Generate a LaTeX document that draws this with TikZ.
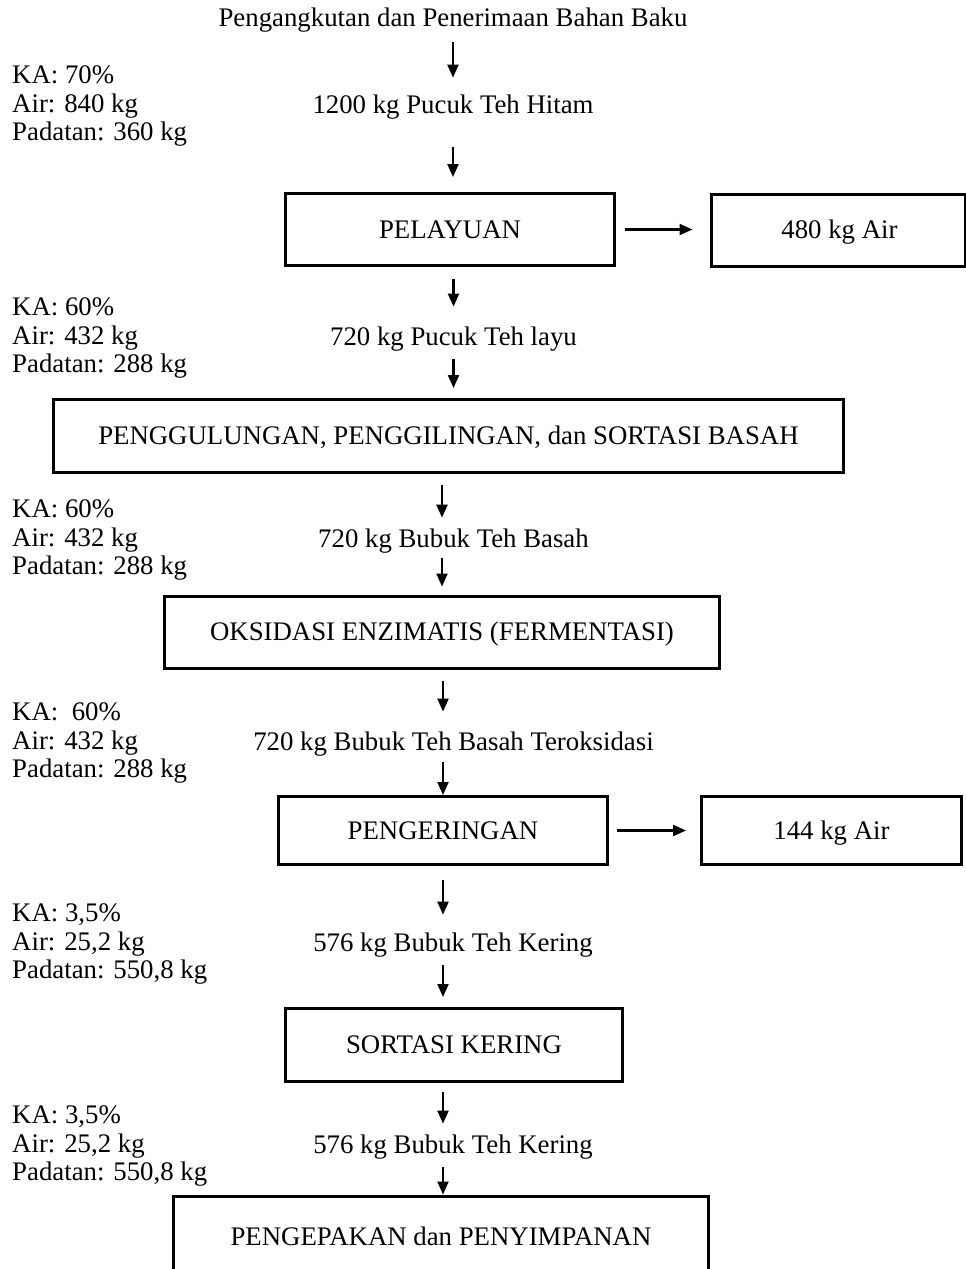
\documentclass[tikz,border=0pt]{standalone}
\usepackage{fontspec}
\setmainfont{Liberation Serif}
\usepackage{tikz}
\usetikzlibrary{positioning,arrows.meta,calc}

\begin{document}
\begin{tikzpicture}[x=1pt, y=-1pt, >={Triangle[length=13pt, width=11pt]},
    every node/.style={font=\fontsize{26.8}{28.5}\selectfont, inner sep=0pt},
    proses/.style={draw, line width=3pt, minimum height=72pt, text height=17.5pt, text depth=0pt},
    panah/.style={->, line width=2.2pt}]
    \useasboundingbox (0,0) rectangle (966,1269);
    \clip (0,0) rectangle (966,1269);

    % aliran bahan (teks tengah)
    \node (judul)   at (453, 20)   {Pengangkutan dan Penerimaan Bahan Baku};
    \node (teh1)    at (453, 107)  {1200 kg Pucuk Teh Hitam};
    \node (teh2)    at (453.5, 339) {720 kg Pucuk Teh layu};
    \node (basah)   at (453.5, 541) {720 kg Bubuk Teh Basah};
    \node (teroks)  at (453.5, 744) {720 kg Bubuk Teh Basah Teroksidasi};
    \node (kering1) at (453, 945)  {576 kg Bubuk Teh Kering};
    \node (kering2) at (453, 1147) {576 kg Bubuk Teh Kering};

    % kotak proses
    \node[proses, minimum width=329pt] (layu)    at (450, 229.5) {PELAYUAN};
    \node[proses, minimum width=254pt] (air1)    at (838, 230)   {\hspace*{3pt}480 kg Air};
    \node[proses, minimum width=790pt, minimum height=73pt] (gulung) at (448.5, 436)
        {PENGGULUNGAN, PENGGILINGAN, dan SORTASI BASAH};
    \node[proses, minimum width=555pt] (oksidasi) at (442, 632)   {OKSIDASI ENZIMATIS (FERMENTASI)};
    \node[proses, minimum width=329pt, minimum height=68pt] (kering) at (443, 830.5) {PENGERINGAN};
    \node[proses, minimum width=260pt, minimum height=68pt] (air2)   at (831.5, 830.5) {144 kg Air};
    \node[proses, minimum width=337pt, minimum height=73pt] (sortasi) at (454, 1045) {SORTASI KERING};
    \node[proses, minimum width=535pt, minimum height=82pt] (kemas)  at (441, 1237)
        {PENGEPAKAN dan PENYIMPANAN};

    % komposisi di kiri
    \node[anchor=west, align=left] (ka1) at (12, 106)  {KA: 70\%\\Air: 840 kg\\Padatan: 360 kg};
    \node[anchor=west, align=left] (ka2) at (12, 338)  {KA: 60\%\\Air: 432 kg\\Padatan: 288 kg};
    \node[anchor=west, align=left] (ka3) at (12, 540)  {KA: 60\%\\Air: 432 kg\\Padatan: 288 kg};
    \node[anchor=west, align=left] (ka4) at (12, 743)  {KA:\ \ 60\%\\Air: 432 kg\\Padatan: 288 kg};
    \node[anchor=west, align=left] (ka5) at (12, 944)  {KA: 3,5\%\\Air: 25,2 kg\\Padatan: 550,8 kg};
    \node[anchor=west, align=left] (ka6) at (12, 1146) {KA: 3,5\%\\Air: 25,2 kg\\Padatan: 550,8 kg};

    % panah ke bawah
    \draw[panah, shorten <=10pt, shorten >=17pt] (judul.south) -- (judul.south |- teh1.north);
    \draw[panah, shorten <=28pt, shorten >=15pt] (teh1.south) -- (teh1.south |- layu.north);
    \draw[panah, shorten <=12pt, shorten >=20pt] (layu.south -| teh2.north) -- (teh2.north);
    \draw[panah, shorten <=8pt, shorten >=10pt] (teh2.south) -- (teh2.south |- gulung.north);
    \draw[panah, shorten <=11pt, shorten >=11pt] (gulung.south -| oksidasi.north) -- (basah.north -| oksidasi.north);
    \draw[panah, shorten <=5pt, shorten >=8pt] (basah.south -| oksidasi.north) -- (oksidasi.north);
    \draw[panah, shorten <=11pt, shorten >=20pt] (oksidasi.south -| kering.north) -- (teroks.north -| kering.north);
    \draw[panah, shorten <=6pt] (teroks.south -| kering.north) -- (kering.north);
    \draw[panah, shorten <=14pt, shorten >=18pt] (kering.south) -- (kering1.north -| kering.south);
    \draw[panah, shorten <=8pt, shorten >=10pt] (kering1.south -| kering.south) -- (sortasi.north -| kering.south);
    \draw[panah, shorten <=9pt, shorten >=11pt] (sortasi.south -| kering.south) -- (kering2.north -| kering.south);
    \draw[panah, shorten <=8pt] (kering2.south -| kering.south) -- (kemas.north -| kering.south);

    % panah ke samping (air yang diuapkan)
    \draw[panah, shorten <=9pt, shorten >=17pt] (layu.east) -- (layu.east -| air1.west);
    \draw[panah, shorten <=8pt, shorten >=14pt] (kering.east) -- (kering.east -| air2.west);
\end{tikzpicture}
\end{document}
